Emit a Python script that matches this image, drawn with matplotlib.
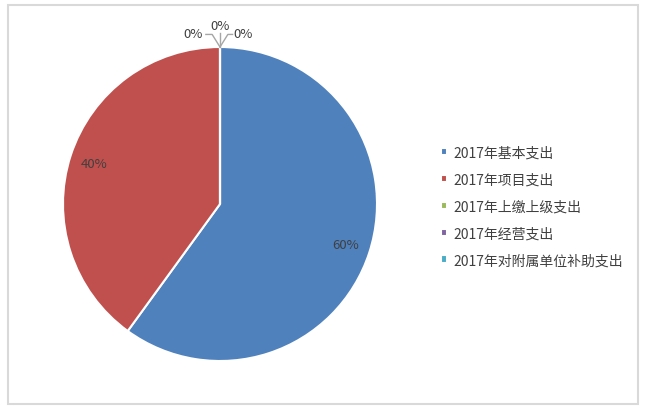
import numpy as np
import matplotlib.pyplot as plt
from matplotlib.patches import Rectangle

plt.rcParams['font.family'] = ['Noto Sans CJK SC', 'DejaVu Sans']

labels = ['2017年基本支出', '2017年项目支出', '2017年上缴上级支出',
          '2017年经营支出', '2017年对附属单位补助支出']
values = [60, 40, 0, 0, 0]
colors = ['#4F81BD', '#C0504D', '#9BBB59', '#8064A2', '#4BACC6']

W, H = 645, 410
fig = plt.figure(figsize=(W / 100, H / 100), dpi=100)

# light grey frame round the chart
fig.patches.append(Rectangle((8 / W, 5 / H), 630 / W, 399 / H, transform=fig.transFigure,
                             fill=False, edgecolor='#d9d9d9', linewidth=1.5))

cx, cy, r = 220, 205, 157
ax = fig.add_axes([(cx - r) / W, (H - cy - r) / H, 2 * r / W, 2 * r / H])
wedges, _ = ax.pie(values, colors=colors, startangle=90, counterclock=False,
                   wedgeprops=dict(edgecolor='white', linewidth=1.5))
ax.set_xlim(-1, 1)
ax.set_ylim(-1, 1)
ax.set_aspect('equal')
ax.axis('off')

# percentage labels
total = sum(values)
angle = 90
txt = dict(fontsize=9.5, color='#404040', ha='center', va='center')
zero_pos = [(-0.17, 1.085), (0.0, 1.14), (0.15, 1.085)]
zi = 0
for v in values:
    span = 360 * v / total
    pct = f'{v / total * 100:.0f}%'
    if v > 0:
        mid = np.deg2rad(angle - span / 2)
        ax.text(0.84 * np.cos(mid), 0.84 * np.sin(mid), pct, **txt)
    else:
        tx, ty = zero_pos[zi]
        ax.text(tx, ty, pct, clip_on=False, **txt)
        zi += 1
    angle -= span

# leader lines for the zero slices
lc = dict(color='#a6a6a6', linewidth=1, clip_on=False)
ax.plot([0, -0.05, -0.09], [1.0, 1.08, 1.08], **lc)
ax.plot([0, 0.05, 0.08], [1.0, 1.08, 1.08], **lc)
ax.plot([0, 0], [1.0, 1.09], **lc)

leg = fig.legend(wedges, labels, loc='upper left', bbox_to_anchor=(428 / W, (H - 134) / H),
                 frameon=False, fontsize=10, handlelength=0.45, handleheight=0.45,
                 handletextpad=0.5, labelspacing=0.93, labelcolor='#404040')

fig.savefig('out.png', dpi=100)
